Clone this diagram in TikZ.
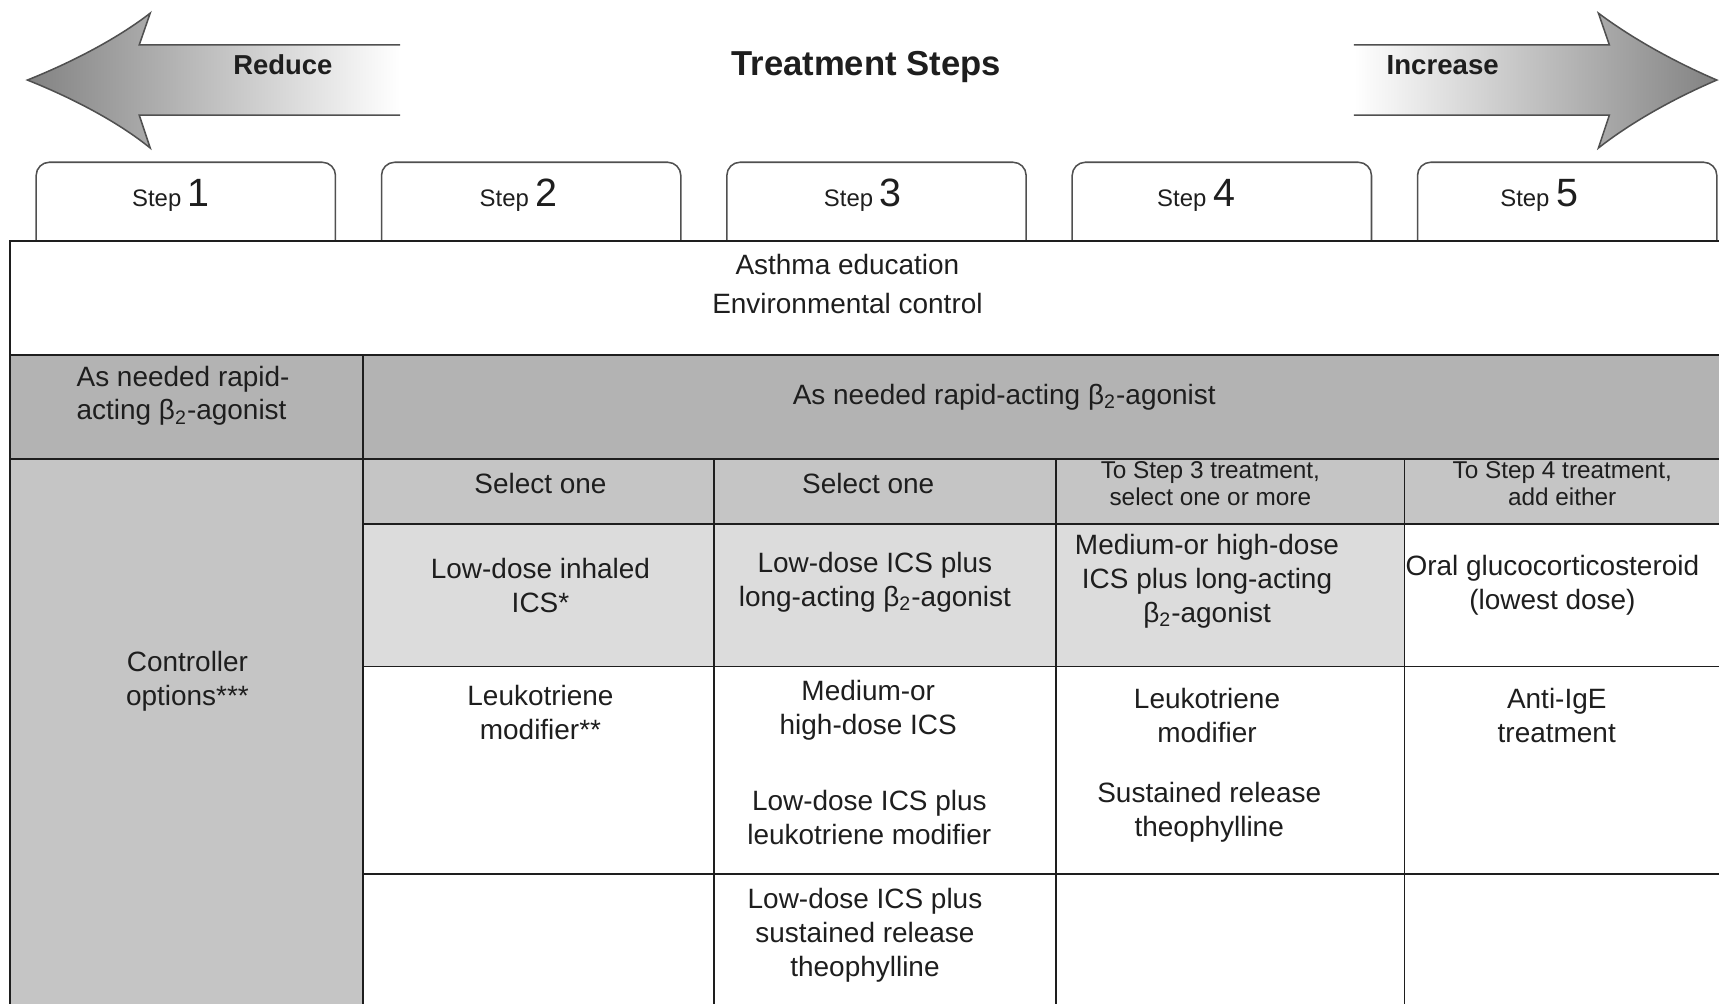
\documentclass[tikz,border=0pt]{standalone}
\usepackage{fontspec}
\setmainfont{Liberation Sans}

\begin{document}
\begin{tikzpicture}[x=0.5pt,y=-0.5pt,
    cell/.style={align=center,text=black1,font=\fontsize{12.75}{15.5}\selectfont},
    small/.style={align=center,text=black1,font=\fontsize{11.1}{12}\selectfont},
    grid/.style={line width=0.8pt,black1},
    tab/.style={line width=0.7pt,gray4,rounded corners=6pt},
    arrowline/.style={line width=0.7pt,gray4}]
\definecolor{black1}{RGB}{30,30,30}
\definecolor{gray1}{RGB}{179,179,179}
\definecolor{gray2}{RGB}{197,197,197}
\definecolor{gray3}{RGB}{220,220,220}
\definecolor{gray4}{RGB}{80,80,80}
\definecolor{gray5}{RGB}{130,130,130}
\useasboundingbox (0,0) rectangle (1568,916);

% arrows
\shade[left color=gray5,right color=white] (25,73) .. controls (70,55) and (110,33) .. (137,12) -- (127,41) -- (365,41)
    -- (365,105) -- (127,105) -- (137,135) .. controls (110,113) and (70,91) .. (25,73) -- cycle;
\draw[arrowline] (365,41) -- (127,41) -- (137,12) .. controls (110,33) and (70,55) .. (25,73)
    .. controls (70,91) and (110,113) .. (137,135) -- (127,105) -- (365,105);
\shade[left color=white,right color=gray5] (1235,41) -- (1468,41) -- (1458,12) .. controls (1486,33) and (1524,55) .. (1566,73)
    .. controls (1524,91) and (1486,113) .. (1458,135) -- (1468,105) -- (1235,105) -- cycle;
\draw[arrowline] (1235,41) -- (1468,41) -- (1458,12) .. controls (1486,33) and (1524,55) .. (1566,73)
    .. controls (1524,91) and (1486,113) .. (1458,135) -- (1468,105) -- (1235,105);
\node[text=black1,font=\fontsize{12.5}{12.5}\selectfont\bfseries] (reduce) at (258,59) {Reduce};
\node[text=black1,font=\fontsize{12.6}{12.6}\selectfont\bfseries] (increase) at (1316,59) {Increase};
\node[text=black1,font=\fontsize{15.8}{15.8}\selectfont\bfseries] (title) at (790,61) {Treatment Steps};

% step tabs
\foreach \i in {0,...,4}
    \draw[tab] (33+315*\i,220) -- (33+315*\i,148) -- (306+315*\i,148) -- (306+315*\i,220);
\foreach \i/\x in {1/156,2/473,3/787,4/1091,5/1404}
    \node[anchor=base,text=black1,font=\fontsize{10.9}{12}\selectfont] (step\i) at (\x,188)
        {Step {\fontsize{18}{18}\selectfont\i}};

% fills
\fill[gray1] (9,324) rectangle (1568,419);
\fill[gray2] (9,419) rectangle (331,916);
\fill[gray2] (331,419) rectangle (1568,478);
\fill[gray3] (331,478) rectangle (1281,608);

% grid
\draw[grid] (1568,220) -- (9,220) -- (9,916);
\draw[grid] (9,324) -- (1568,324);
\draw[grid] (9,419) -- (1568,419);
\draw[grid] (331,324) -- (331,916);
\foreach \x in {651,963,1281}
    \draw[grid] (\x,419) -- (\x,916);
\foreach \y in {478,608,797}
    \draw[grid] (331,\y) -- (1568,\y);

% texts
\node[cell,font=\fontsize{12.75}{17.5}\selectfont] (edu) at (773,259) {Asthma education\\Environmental control};
\node[cell,align=left] (relief1) at (167,361) {As needed rapid-\\acting β\textsubscript{2}-agonist};
\node[cell] (relief2) at (916,362) {As needed rapid-acting β\textsubscript{2}-agonist};
\node[cell] (ctrl) at (171,621) {Controller\\options***};
\node[cell] (head1) at (493,441) {Select one};
\node[cell] (head2) at (792,441) {Select one};
\node[small] (head3) at (1104,441) {To Step 3 treatment,\\select one or more};
\node[small] (head4) at (1425,441) {To Step 4 treatment,\\add either};
\node[cell] (ics1) at (493,534) {Low-dose inhaled\\ICS*};
\node[cell] (ics2) at (798,531) {Low-dose ICS plus\\long-acting β\textsubscript{2}-agonist};
\node[cell] (ics3) at (1101,530) {Medium-or high-dose\\ICS plus long-acting\\β\textsubscript{2}-agonist};
\node[cell] (oral) at (1416,534) {Oral glucocorticosteroid\\(lowest dose)};
\node[cell] (ltra1) at (493,650) {Leukotriene\\modifier**};
\node[cell] (ics4) at (792,648) {Medium-or\\high-dose ICS};
\node[cell] (ltra2) at (793,746) {Low-dose ICS plus\\leukotriene modifier};
\node[cell] (ltra3) at (1101,653) {Leukotriene\\modifier};
\node[cell] (theo1) at (1103,741) {Sustained release\\theophylline};
\node[cell] (ige) at (1420,653) {Anti-IgE\\treatment};
\node[cell] (theo2) at (789,853) {Low-dose ICS plus\\sustained release\\theophylline};
\end{tikzpicture}
\end{document}
